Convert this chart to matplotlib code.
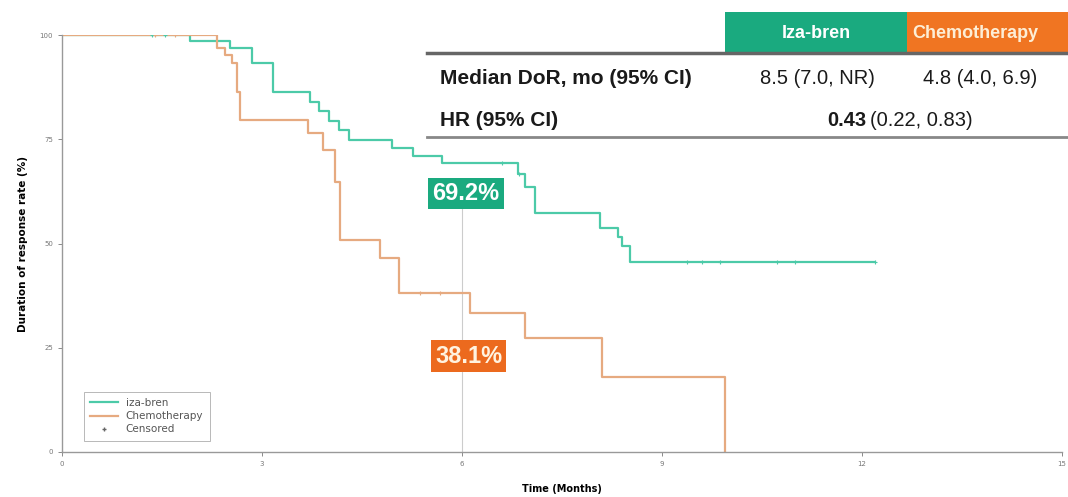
import matplotlib.pyplot as plt
from matplotlib.patches import Rectangle

# Iza-bren KM steps (months, %)
iza_t = [0, 1.92, 2.52, 2.85, 3.17, 3.72, 3.85, 4.0, 4.15, 4.3, 4.95, 5.27, 5.7,
         6.84, 6.95, 7.1, 8.07, 8.34, 8.4, 8.52, 12.2]
iza_s = [100, 98.5, 96.9, 93.3, 86.3, 84.0, 81.7, 79.4, 77.1, 74.8, 73.0, 71.0, 69.2,
         66.7, 63.6, 57.2, 53.7, 51.6, 49.5, 45.5, 45.5]
iza_cens_t = [1.35, 1.55, 6.6, 6.85, 9.38, 9.6, 9.87, 10.72, 11.0, 12.2]

# Chemotherapy KM steps
chemo_t = [0, 2.32, 2.45, 2.55, 2.62, 2.67, 3.69, 3.92, 4.1, 4.17, 4.77, 5.05,
           6.12, 6.95, 8.1, 9.95]
chemo_s = [100, 96.9, 95.2, 93.3, 86.3, 79.6, 76.5, 72.4, 64.7, 50.8, 46.5, 38.1,
           33.3, 27.3, 18.0, 0]
chemo_cens_t = [1.4, 1.7, 5.37, 5.67]

landmark = 6
iza_label = "69.2%"
chemo_label = "38.1%"

table_rows = ["Median DoR, mo (95% CI)", "HR (95% CI)"]
iza_median = "8.5 (7.0, NR)"
chemo_median = "4.8 (4.0, 6.9)"
hr_value = "0.43"
hr_ci = "(0.22, 0.83)"

TEAL_LINE = '#4ccaa8'
ORANGE_LINE = '#e6aa80'
TEAL = '#1aaa7f'
ORANGE = '#ec6a1e'
FONT = ['Liberation Sans', 'DejaVu Sans']


def step_value(ts, ss, x):
    v = ss[0]
    for t, s in zip(ts, ss):
        if t <= x:
            v = s
    return v


fig = plt.figure(figsize=(10.68, 4.97), dpi=100)
ax = fig.add_axes([62 / 1068, 45 / 497, 1000 / 1068, 417 / 497])

ax.step(iza_t, iza_s, where='post', color=TEAL_LINE, lw=1.6, label='iza-bren')
ax.step(chemo_t, chemo_s, where='post', color=ORANGE_LINE, lw=1.6, label='Chemotherapy')
ax.plot(iza_cens_t, [step_value(iza_t, iza_s, t) for t in iza_cens_t], '+',
        color=TEAL_LINE, ms=3, mew=0.8)
ax.plot(chemo_cens_t, [step_value(chemo_t, chemo_s, t) for t in chemo_cens_t], '+',
        color=ORANGE_LINE, ms=3, mew=0.8)
ax.plot([], [], '+', color='#666666', ms=3, label='Censored')

ax.vlines(landmark, 0, 62, color='#cccccc', lw=0.8, zorder=0)

ax.text(landmark + 0.06, 62, iza_label, ha='center', va='center', color='white',
        fontsize=17, fontweight='bold', family=FONT,
        bbox=dict(boxstyle='square,pad=0.18', fc=TEAL, ec='none'))
ax.text(landmark + 0.1, 23, chemo_label, ha='center', va='center', color='#fff3e0',
        fontsize=17, fontweight='bold', family=FONT,
        bbox=dict(boxstyle='square,pad=0.18', fc=ORANGE, ec='none'))

ax.set_xlim(0, 15)
ax.set_ylim(0, 100)
ax.set_xticks([0, 3, 6, 9, 12, 15])
ax.set_yticks([0, 25, 50, 75, 100])
ax.tick_params(labelsize=5, colors='#777777', length=3, width=0.6)
for side in ['top', 'right']:
    ax.spines[side].set_visible(False)
for side in ['left', 'bottom']:
    ax.spines[side].set_color('#999999')
    ax.spines[side].set_linewidth(1.0)
ax.set_xlabel('Time (Months)', fontsize=7, fontweight='bold', labelpad=12)
ax.set_ylabel('Duration of response rate (%)', fontsize=7.5, fontweight='bold', labelpad=8)

leg = ax.legend(loc='lower left', bbox_to_anchor=(0.017, 0.015), fontsize=7.5,
                frameon=True, fancybox=False, edgecolor='#999999', handlelength=2.6,
                labelspacing=0.3, labelcolor='#555555', borderpad=0.6)
leg.get_frame().set_linewidth(0.6)

# summary table overlay (pixel coords)
tab = fig.add_axes([422 / 1068, 1 - 142 / 497, 646 / 1068, 134 / 497])
tab.set_xlim(422, 1068)
tab.set_ylim(142, 8)
tab.axis('off')
tab.add_patch(Rectangle((422, 8), 646, 134, fc='white', ec='none'))
tab.add_patch(Rectangle((725, 12), 182, 41, fc=TEAL, ec='none'))
tab.add_patch(Rectangle((907, 12), 300, 41, fc='#f07522', ec='none'))
tab.plot([427, 1068], [53, 53], color='#666666', lw=2.5)
tab.plot([427, 1068], [137, 137], color='#888888', lw=2)
tab.text(816, 34, 'Iza-bren', ha='center', va='center', color='white', fontsize=13,
         fontweight='bold', family=FONT)
tab.text(912, 34, 'Chemotherapy', ha='left', va='center', color='#fdeed6', fontsize=13,
         fontweight='bold', family=FONT)
tab.text(440, 79, table_rows[0], ha='left', va='center', fontsize=15, fontweight='bold',
         family=FONT, color='#1a1a1a')
tab.text(440, 120, table_rows[1], ha='left', va='center', fontsize=15, fontweight='bold',
         family=FONT, color='#1a1a1a')
tab.text(817, 79, iza_median, ha='center', va='center', fontsize=14.5, family=FONT,
         color='#1a1a1a')
tab.text(980, 79, chemo_median, ha='center', va='center', fontsize=14.5, family=FONT,
         color='#1a1a1a')
tab.text(866, 120, hr_value, ha='right', va='center', fontsize=14.5, fontweight='bold',
         family=FONT, color='#1a1a1a')
tab.text(870, 120, hr_ci, ha='left', va='center', fontsize=14.5, family=FONT,
         color='#1a1a1a')

fig.savefig('out.png', dpi=100)
